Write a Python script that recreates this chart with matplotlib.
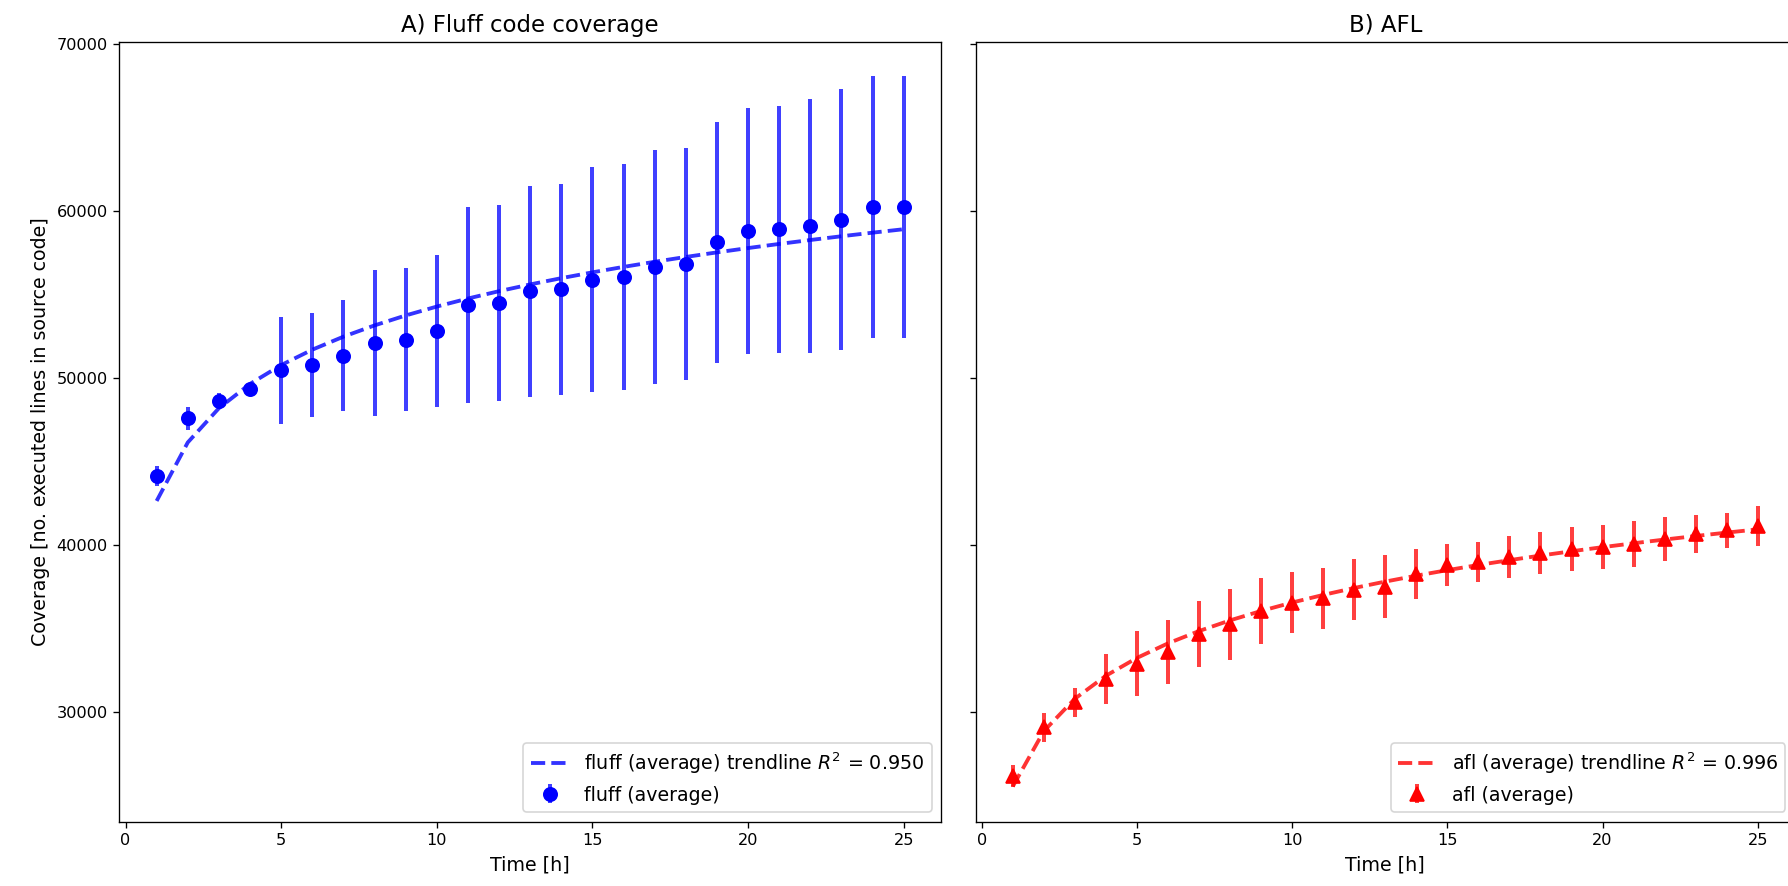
import numpy as np
import matplotlib
matplotlib.use("Agg")
import matplotlib.pyplot as plt

hours = np.arange(1, 26)

fluff_mean = [44150, 47600, 48650, 49360, 50480, 50800, 51360, 52120, 52310, 52810,
              54380, 54530, 55220, 55340, 55920, 56060, 56670, 56870, 58140, 58830,
              58940, 59140, 59510, 60270, 60270]
fluff_err = [600, 700, 500, 200, 3210, 3130, 3330, 4360, 4290, 4550,
             5860, 5870, 6310, 6310, 6760, 6750, 7010, 6950, 7190, 7380,
             7390, 7590, 7830, 7830, 7830]

afl_mean = [26210, 29100, 30600, 31990, 32930, 33620, 34690, 35270, 36080, 36580,
            36830, 37340, 37530, 38310, 38810, 39000, 39310, 39550, 39760, 39880,
            40080, 40380, 40700, 40910, 41150]
afl_err = [650, 850, 850, 1490, 1940, 1890, 1960, 2140, 1960, 1820,
           1830, 1820, 1870, 1490, 1250, 1200, 1250, 1250, 1320, 1320,
           1380, 1320, 1140, 1050, 1190]

titles = ["A) Fluff code coverage", "B) AFL"]
ylabel = "Coverage [no. executed lines in source code]"
xlabel = "Time [h]"
fluff_r2_label = "fluff (average) trendline $R^2$ = 0.950"
afl_r2_label = "afl (average) trendline $R^2$ = 0.996"

W, H = 1788, 886
dpi = 120
fig = plt.figure(figsize=(W / dpi, H / dpi), dpi=dpi)
ax1 = fig.add_axes([119.3 / W, 64.3 / H, (941 - 119.3) / W, (844 - 64.3) / H])
ax2 = fig.add_axes([975.5 / W, 64.3 / H, (1795 - 975.5) / W, (844 - 64.3) / H], sharey=ax1)

TICK_FS = 9.7
LABEL_FS = 11.4
TITLE_FS = 13.7


def log_fit(x, y):
    b, a = np.polyfit(np.log(x), y, 1)
    return a + b * np.log(x)


def panel(ax, mean, err, color, marker, name, trend_label, title):
    mean = np.asarray(mean, float)
    trend = log_fit(hours, mean)
    ax.plot(hours, trend, linestyle="--", color=color, alpha=0.8, lw=2.3,
            label=trend_label)
    ax.errorbar(hours, mean, yerr=err, fmt=marker, color=color, markersize=8,
                ecolor=matplotlib.colors.to_rgba(color, 0.75), elinewidth=2.4,
                label=name)
    ax.set_title(title, fontsize=TITLE_FS)
    ax.set_xlabel(xlabel, fontsize=LABEL_FS)
    ax.legend(loc="lower right", fontsize=LABEL_FS)
    ax.tick_params(labelsize=TICK_FS)


panel(ax1, fluff_mean, fluff_err, "blue", "o", "fluff (average)", fluff_r2_label, titles[0])
panel(ax2, afl_mean, afl_err, "red", "^", "afl (average)", afl_r2_label, titles[1])

ax1.set_ylabel(ylabel, fontsize=LABEL_FS)
ax1.set_ylim(23460, 70140)
ax1.set_yticks([30000, 40000, 50000, 60000, 70000])
ax1.set_xticks([0, 5, 10, 15, 20, 25])
ax2.set_xticks([0, 5, 10, 15, 20, 25])
ax2.tick_params(labelleft=False)

fig.savefig("out.png", dpi=dpi)
